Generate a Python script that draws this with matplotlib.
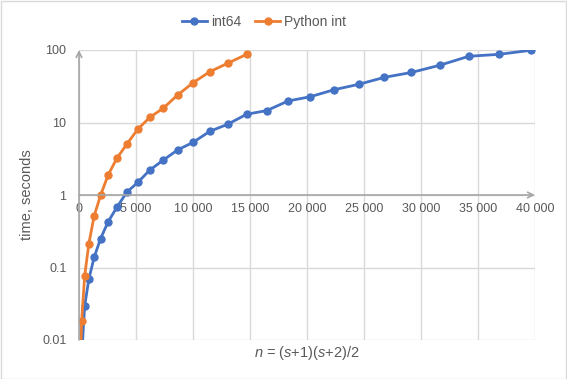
from matplotlib import pyplot as plt
from matplotlib import ticker as ticker
import numpy as np

# s values and n = (s+1)(s+2)/2
s_int64 = [10, 20, 30, 40, 50, 60, 70, 80, 90, 100, 110, 120, 130, 140, 150,
           160, 170, 180, 190, 200, 210, 220, 230, 240, 250, 260, 270, 280]
t_int64 = [0.001, 0.006, 0.0294, 0.0687, 0.138, 0.250, 0.428, 0.676, 1.09, 1.49,
           2.21, 3.02, 4.18, 5.33, 7.56, 9.45, 13.0, 14.6, 19.8, 22.7,
           28.3, 33.6, 42.0, 49.0, 61.5, 81.9, 87.2, 99.0]

s_pyint = [10, 20, 30, 40, 50, 60, 70, 80, 90, 100, 110, 120, 130, 140, 150, 160, 170]
t_pyint = [0.003, 0.0181, 0.0763, 0.211, 0.513, 0.99, 1.89, 3.21, 5.01, 8.06,
           11.8, 15.7, 23.9, 35.4, 50.2, 65.6, 87.2]

y_ticks = [0.01, 0.1, 1, 10, 100]
y_labels = ["0.01", "0.1", "1", "10", "100"]
x_ticks = list(range(0, 40001, 5000))

BLUE = "#4472C4"
ORANGE = "#ED7D31"
GRID = "#D9D9D9"
TEXT = "#595959"

plt.rcParams["font.family"] = ["Liberation Sans", "DejaVu Sans"]
plt.rcParams["mathtext.fontset"] = "custom"
plt.rcParams["mathtext.it"] = "Liberation Sans:italic"
plt.rcParams["mathtext.rm"] = "Liberation Sans"

def to_n(s):
    s = np.array(s)
    return (s + 1) * (s + 2) / 2

fig = plt.figure(figsize=(5.67, 3.79), dpi=100)
ax = fig.add_axes([79 / 567, 39 / 379, 456 / 567, 290 / 379])

ax.plot(to_n(s_int64), t_int64, color=BLUE, lw=2, marker="o", ms=5, label="int64")
ax.plot(to_n(s_pyint), t_pyint, color=ORANGE, lw=2, marker="o", ms=5, label="Python int")

ax.set_yscale("log")
ax.set_ylim(0.01, 100)
ax.set_xlim(0, 40000)

ax.set_yticks(y_ticks)
ax.set_yticklabels(y_labels)
ax.yaxis.set_minor_locator(ticker.NullLocator())
ax.set_xticks(x_ticks)
ax.xaxis.set_major_formatter(ticker.FuncFormatter(lambda v, p: f"{int(v):,}".replace(",", " ")))

ax.grid(True, color=GRID, lw=1)
ax.set_axisbelow(True)
ax.tick_params(length=0, labelsize=9, colors=TEXT)
ax.tick_params(axis="y", pad=9)
ax.tick_params(axis="x", pad=6)

for sp in ax.spines.values():
    sp.set_visible(False)
ax.spines["bottom"].set_position(("data", 1))

# axes drawn as arrows (x-axis crosses at y = 1)
arrow = dict(arrowstyle="->", color="#A6A6A6", lw=1.2, shrinkA=0, shrinkB=0)
ax.annotate("", xy=(40000, 1), xytext=(0, 1), arrowprops=arrow, annotation_clip=False)
ax.annotate("", xy=(0, 100), xytext=(0, 0.01), arrowprops=arrow, annotation_clip=False)

ax.set_ylabel("time, seconds", color=TEXT, fontsize=10.5)
ax.yaxis.set_label_coords(-45 / 456, 0.5)
ax.text(0.5, -0.045, "$n$ = ($s$+1)($s$+2)/2", transform=ax.transAxes,
        ha="center", va="center", color=TEXT, fontsize=10.5)

fig.legend(loc="center", bbox_to_anchor=(264 / 567, 1 - 22 / 379), ncol=2,
           frameon=False, fontsize=10, labelcolor=TEXT, handlelength=1.8,
           columnspacing=1.0, handletextpad=0.3)

# light border around the chart
fig.patches.append(plt.Rectangle((0.001, 0.001), 0.997, 0.996, transform=fig.transFigure,
                                 fill=False, edgecolor=GRID, lw=1))

fig.savefig("out.png", dpi=100)
